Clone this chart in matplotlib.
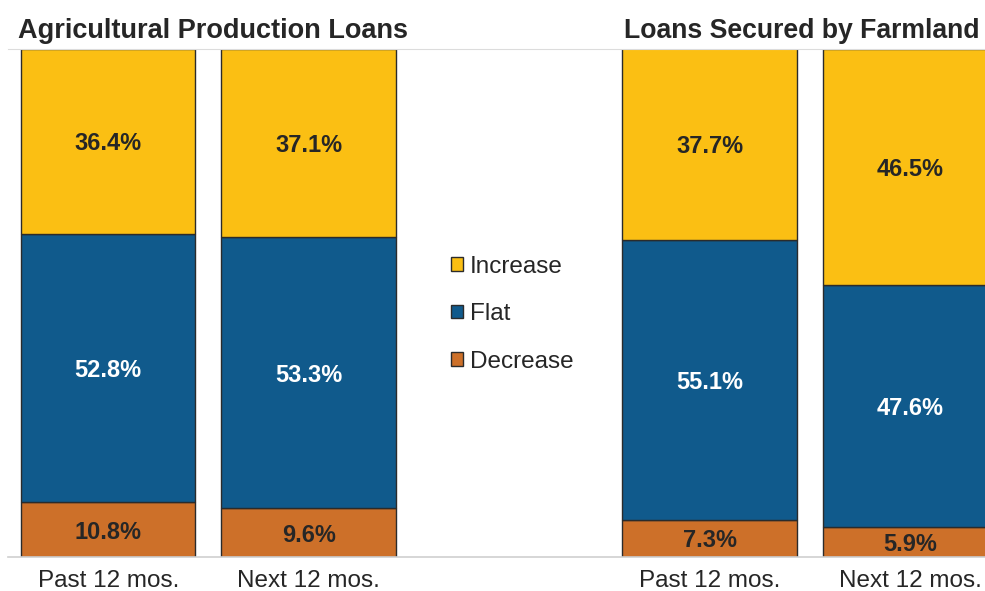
import numpy as np
import matplotlib.pyplot as plt
from matplotlib.patches import Patch

plt.rcParams['font.family'] = ['Liberation Sans', 'DejaVu Sans']

# data
periods = ["Past 12 mos.", "Next 12 mos.", "Past 12 mos.", "Next 12 mos."]
groups = ["Agricultural Production Loans", "Loans Secured by Farmland"]
decrease = [10.8, 9.6, 7.3, 5.9]
flat = [52.8, 53.3, 55.1, 47.6]
increase = [36.4, 37.1, 37.7, 46.5]

c_inc = "#FBBF13"
c_flat = "#105A8C"
c_dec = "#CD7029"
edge = "#2b2b2b"
txt = "#262626"

x = np.array([0, 1, 3, 4])
w = 0.87

fig = plt.figure(figsize=(9.85, 5.91), dpi=100)
ax = fig.add_axes([8 / 985, 34 / 591, 1 - 8 / 985, 508 / 591])

dec = np.array(decrease)
fl = np.array(flat)
inc = np.array(increase)

ax.bar(x, dec, w, color=c_dec, edgecolor=edge, linewidth=1)
ax.bar(x, fl, w, bottom=dec, color=c_flat, edgecolor=edge, linewidth=1)
ax.bar(x, inc, w, bottom=dec + fl, color=c_inc, edgecolor=edge, linewidth=1)

for i in range(len(x)):
    ax.text(x[i], dec[i] / 2, f"{dec[i]:.1f}%", ha='center', va='center_baseline',
            fontsize=17, fontweight='bold', color=txt)
    ax.text(x[i], dec[i] + fl[i] / 2, f"{fl[i]:.1f}%", ha='center', va='center_baseline',
            fontsize=17, fontweight='bold', color='white')
    ax.text(x[i], dec[i] + fl[i] + inc[i] / 2, f"{inc[i]:.1f}%", ha='center',
            va='center_baseline', fontsize=17, fontweight='bold', color=txt)

# group titles
ax.text(-0.45, 103.6, groups[0], ha='left', va='center', fontsize=19.5,
        fontweight='bold', color=txt, clip_on=False)
ax.text(2.575, 103.6, groups[1], ha='left', va='center', fontsize=19.2,
        fontweight='bold', color=txt, clip_on=False)

ax.set_xlim(-0.5, (985 - 108) / 200.5)
ax.set_ylim(0, 100)
ax.set_xticks(x)
ax.set_xticklabels(periods, fontsize=17.5, color=txt)
ax.tick_params(axis='x', length=0, pad=9.5)
ax.set_yticks([])
for s in ['left', 'right']:
    ax.spines[s].set_visible(False)
ax.spines['top'].set_color('#dcdcdc')
ax.spines['bottom'].set_color('#cfcfcf')
ax.spines['bottom'].set_linewidth(1.2)

handles = [Patch(facecolor=c_inc, edgecolor=edge, label="Increase"),
           Patch(facecolor=c_flat, edgecolor=edge, label="Flat"),
           Patch(facecolor=c_dec, edgecolor=edge, label="Decrease")]
ax.legend(handles=handles, loc='center', bbox_to_anchor=(2.015, 47.8),
          bbox_transform=ax.transData, frameon=False, fontsize=17.5,
          handlelength=0.5, handleheight=0.5, handletextpad=0.3,
          labelspacing=1.05, labelcolor=txt)

fig.savefig("out.png", dpi=100)
